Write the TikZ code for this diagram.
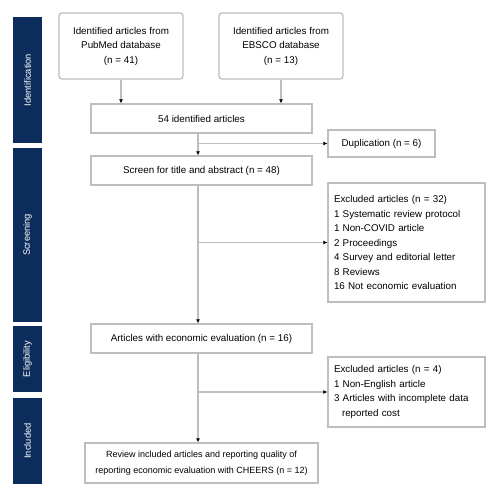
\documentclass[tikz,border=0pt]{standalone}
\usepackage{fontspec}
\setmainfont{Liberation Sans}
\usetikzlibrary{arrows.meta}
\definecolor{navy}{RGB}{12,45,92}
\definecolor{boxline}{RGB}{190,190,190}
\begin{document}
\begin{tikzpicture}[x=1pt,y=-1pt,
  txt/.style={font=\fontsize{9.8}{14.5}\selectfont},
  box/.style={txt, draw=boxline, line width=1.3pt, fill=white, inner sep=0pt, align=center},
  sbox/.style={box, rounded corners=3pt},
  exbox/.style={box, align=left, text width=145pt, inner xsep=6pt},
  phase/.style={fill=navy, text=white, inner sep=0pt, rotate=90, font=\fontsize{9.3}{10}\selectfont},
  conn/.style={draw=boxline, line width=1.5pt, -{Latex[length=4pt,width=4pt,color=black]}},
  plain/.style={draw=boxline, line width=1.5pt}]
\useasboundingbox (0,0) rectangle (500,500);
\fill[white] (0,0) rectangle (500,500);

% phase bars
\node[phase, minimum width=126pt, minimum height=29pt] (p1) at (27.5,80) {Identification};
\node[phase, minimum width=174pt, minimum height=29pt] (p2) at (27.5,235) {Screening};
\node[phase, minimum width=66pt, minimum height=29pt] (p3) at (27.5,359) {Eligibility};
\node[phase, minimum width=86pt, minimum height=29pt] (p4) at (27.5,441) {Included};

% boxes
\node[sbox, minimum width=124pt, minimum height=66pt] (b1) at (121,46)
  {Identified articles from\\PubMed database\\(n = 41)};
\node[sbox, minimum width=124pt, minimum height=66pt] (b2) at (281,46)
  {Identified articles from\\EBSCO database\\(n = 13)};
\node[box, minimum width=221pt, minimum height=29pt] (tot) at (201.5,118.5)
  {54 identified articles};
\node[box, minimum width=107pt, minimum height=27pt] (dup) at (381.5,143.5)
  {Duplication (n = 6)};
\node[box, minimum width=221pt, minimum height=29pt] (scr) at (201.5,170.5)
  {Screen for title and abstract (n = 48)};
\node[exbox, minimum height=119pt] (ex1) at (406.5,242.5)
  {Excluded articles (n = 32)\\1 Systematic review protocol\\1 Non-COVID article\\2 Proceedings\\4 Survey and editorial letter\\8 Reviews\\16 Not economic evaluation};
\node[box, minimum width=221pt, minimum height=29pt] (eli) at (201.5,338.5)
  {Articles with economic evaluation (n = 16)};
\node[exbox, minimum height=70pt] (ex2) at (406.5,392)
  {Excluded articles (n = 4)\\1 Non-English article\\3 Articles with incomplete data\\\hspace*{8pt}reported cost};
\node[box, minimum width=233pt, minimum height=40pt, font=\fontsize{9}{16}\selectfont] (fin) at (201.5,463)
  {Review included articles and reporting quality of\\reporting economic evaluation with CHEERS (n = 12)};

% connectors
\draw[conn] (b1.south) -- (b1.south |- tot.north);
\draw[conn] (b2.south) -- (b2.south |- tot.north);
\coordinate (s1) at ([xshift=-3.5pt]tot.south);
\coordinate (s2) at ([xshift=-3.5pt]scr.south);
\coordinate (s3) at ([xshift=-3.5pt]eli.south);
\draw[conn] (s1) -- (s1 |- scr.north);
\draw[conn] (s1 |- dup.west) -- (dup.west);
\draw[conn] (s2) -- (s2 |- eli.north);
\draw[conn] (s2 |- ex1.west) -- (ex1.west);
\draw[conn] (s3) -- (s3 |- fin.north);
\draw[conn] (s3 |- ex2.west) -- (ex2.west);
\end{tikzpicture}
\end{document}
